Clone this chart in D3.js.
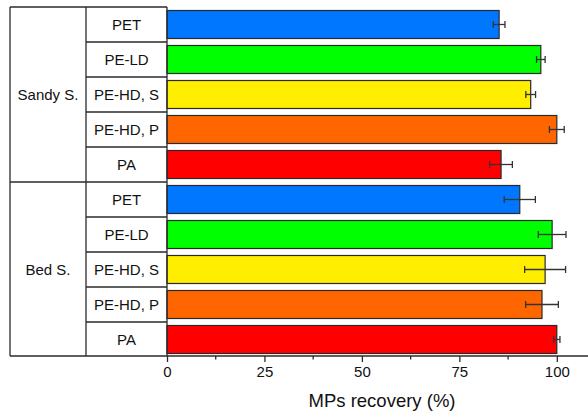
<!DOCTYPE html>
<html>
<head>
<meta charset="utf-8">
<script src="https://cdn.jsdelivr.net/npm/d3@7"></script>
<style>
  html, body { margin: 0; padding: 0; background: #fff; }
  svg { display: block; font-family: "Liberation Sans", Arial, sans-serif; }
</style>
</head>
<body>
<svg id="chart" width="588" height="411"></svg>
<script>
// Sediment types and polymer categories
const groups = ["Sandy S.", "Bed S."];
const polymers = ["PET", "PE-LD", "PE-HD, S", "PE-HD, P", "PA"];
const polymerColors = ["#0077ff", "#00ff00", "#ffee00", "#ff6600", "#ff0000"];

// Mean recovery (%) and standard deviation for each sediment
const sandyMean = [85.2, 95.9, 93.3, 100.0, 85.7];
const sandyErr  = [1.5, 1.1, 1.25, 1.9, 2.9];
const bedMean   = [90.5, 98.8, 97.0, 96.2, 100.0];
const bedErr    = [4.0, 3.55, 5.25, 4.2, 0.8];

const xTicks = [0, 25, 50, 75, 100];
const xMinorTicks = [12.5, 37.5, 62.5, 87.5];
const xTitle = "MPs recovery (%)";

const means = [sandyMean, bedMean];
const errs = [sandyErr, bedErr];
const rows = [];
groups.forEach((g, gi) => {
  polymers.forEach((p, pi) => {
    rows.push({ key: g + "|" + p, group: g, gi, polymer: p, pi,
                value: means[gi][pi], err: errs[gi][pi], color: polymerColors[pi] });
  });
});

const svg = d3.select("#chart");
const leftX = 10, midX = 86, plotLeft = 167, plotRight = 588;
const topY = 7, bottomY = 357;
const ink = "#2a2a2a";

const x = d3.scaleLinear().domain([0, 108]).range([plotLeft, plotRight]);
const y = d3.scaleBand().domain(rows.map(d => d.key)).range([topY, bottomY])
  .paddingInner(0.2).paddingOuter(0.1);
const step = y.step();
const rowTop = d => y(d.key) - y.paddingOuter() * step;

// Bars
svg.append("g").selectAll("rect").data(rows).join("rect")
  .attr("x", x(0))
  .attr("y", d => y(d.key))
  .attr("width", d => x(d.value) - x(0))
  .attr("height", y.bandwidth())
  .attr("fill", d => d.color)
  .attr("stroke", ink)
  .attr("stroke-width", 1.2);

// Error bars
const eb = svg.append("g").attr("stroke", "#333").attr("stroke-width", 1.3);
rows.forEach(d => {
  const cy = y(d.key) + y.bandwidth() / 2;
  const x0 = x(d.value - d.err), x1 = x(d.value + d.err);
  eb.append("line").attr("x1", x0).attr("x2", x1).attr("y1", cy).attr("y2", cy);
  [x0, x1].forEach(xx => eb.append("line")
    .attr("x1", xx).attr("x2", xx).attr("y1", cy - 3.5).attr("y2", cy + 3.5));
});

// Category table on the left
const tbl = svg.append("g").attr("stroke", ink).attr("stroke-width", 1.3).attr("fill", "none");
tbl.append("line").attr("x1", leftX).attr("x2", plotLeft).attr("y1", topY).attr("y2", topY);
tbl.append("line").attr("x1", leftX).attr("x2", leftX).attr("y1", topY).attr("y2", bottomY - 1);
tbl.append("line").attr("x1", midX).attr("x2", midX).attr("y1", topY).attr("y2", bottomY - 1);
tbl.append("line").attr("x1", plotLeft).attr("x2", plotLeft).attr("y1", topY).attr("y2", bottomY - 1);
rows.forEach((d, i) => {
  if (i === 0) return;
  const yy = rowTop(d);
  const startX = d.pi === 0 ? leftX : midX;
  tbl.append("line").attr("x1", startX).attr("x2", plotLeft).attr("y1", yy).attr("y2", yy);
});

// Row labels
svg.append("g").selectAll("text").data(rows).join("text")
  .attr("x", (midX + plotLeft) / 2)
  .attr("y", d => y(d.key) + y.bandwidth() / 2 + 5.3)
  .attr("text-anchor", "middle")
  .attr("font-size", 15)
  .attr("fill", "#111")
  .text(d => d.polymer);

// Group labels
svg.append("g").selectAll("text").data(groups).join("text")
  .attr("x", (leftX + midX) / 2)
  .attr("y", (g, gi) => {
    const r = rows.filter(d => d.gi === gi);
    const t = rowTop(r[0]);
    const b = rowTop(r[r.length - 1]) + step;
    return (t + b) / 2 + 5.3;
  })
  .attr("text-anchor", "middle")
  .attr("font-size", 15)
  .attr("fill", "#111")
  .text(d => d);

// X axis
const axisY = bottomY - 1;
const axis = svg.append("g").attr("transform", `translate(0,${axisY})`)
  .call(d3.axisBottom(x).tickValues(xTicks).tickSize(6).tickPadding(4).tickFormat(d3.format("d")));
axis.select(".domain").attr("stroke", ink).attr("stroke-width", 1.3)
  .attr("d", `M${leftX},0H${plotRight}`);
axis.selectAll(".tick line").attr("stroke", ink).attr("stroke-width", 1.3);
axis.selectAll(".tick text").attr("font-size", 15).attr("fill", "#111")
  .attr("font-family", "Liberation Sans, Arial, sans-serif");
svg.append("g").attr("transform", `translate(0,${axisY})`)
  .selectAll("line").data(xMinorTicks).join("line")
  .attr("x1", d => x(d)).attr("x2", d => x(d)).attr("y1", 0).attr("y2", 3.5)
  .attr("stroke", ink).attr("stroke-width", 1.3);

// Axis title
svg.append("text")
  .attr("x", 382).attr("y", 407)
  .attr("text-anchor", "middle")
  .attr("font-size", 18.5)
  .attr("fill", "#111")
  .text(xTitle);
</script>
</body>
</html>
